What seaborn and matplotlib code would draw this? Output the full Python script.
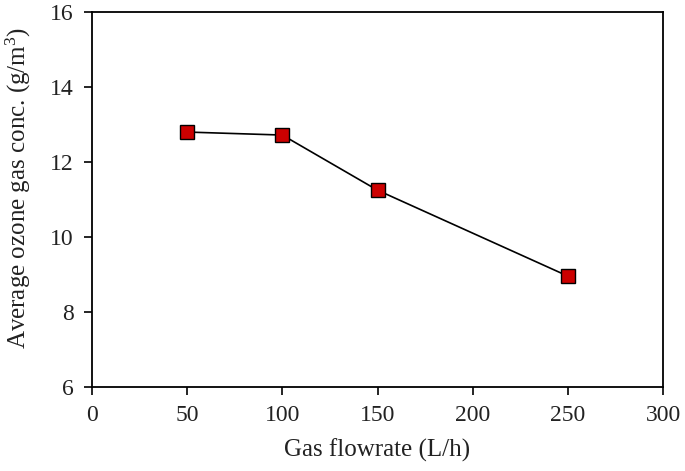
#!/usr/bin/env python3
"""Average ozone gas concentration vs gas flowrate."""

import pandas as pd
import seaborn as sns
import matplotlib
matplotlib.use("Agg")
import matplotlib.pyplot as plt

# Data
flowrate = [50, 100, 150, 250]
ozone_conc = [12.8, 12.72, 11.25, 8.96]

x_ticks = [0, 50, 100, 150, 200, 250, 300]
y_ticks = [6, 8, 10, 12, 14, 16]


def main():
    sns.set_style("ticks")
    plt.rcParams['font.family'] = ['Liberation Serif', 'DejaVu Serif']
    plt.rcParams['mathtext.fontset'] = 'custom'
    plt.rcParams['mathtext.rm'] = 'Liberation Serif'
    plt.rcParams['text.color'] = 'black'
    plt.rcParams['axes.labelcolor'] = 'black'

    df = pd.DataFrame({'flowrate': flowrate, 'conc': ozone_conc})

    fig = plt.figure(figsize=(6.85, 4.71), dpi=100)
    ax = fig.add_axes([0.1343, 0.178, 0.968 - 0.1343, 0.9745 - 0.178])

    sns.lineplot(data=df, x='flowrate', y='conc', ax=ax, color='black',
                 linewidth=1.2, marker='s', markersize=10,
                 markerfacecolor='#cc0000', markeredgecolor='black',
                 markeredgewidth=1.0)

    ax.set_xlim(0, 300)
    ax.set_ylim(6, 16)
    ax.set_xticks(x_ticks)
    ax.set_yticks(y_ticks)
    ax.tick_params(direction='out', length=6, width=1.2, labelsize=17,
                   colors='black', labelcolor='#222222', pad=7)
    for side in ['top', 'right', 'bottom', 'left']:
        ax.spines[side].set_visible(True)
        ax.spines[side].set_linewidth(1.3)
        ax.spines[side].set_color('black')

    ax.set_xlabel('Gas flowrate (L/h)', fontsize=18, labelpad=9,
                  color='#222222')
    ax.set_ylabel('Average ozone gas conc. (g/m$\\mathregular{^3}$)',
                  fontsize=18, color='#222222')
    ax.yaxis.set_label_coords(-0.104, 0.53)

    fig.savefig('out.png', dpi=100)


if __name__ == "__main__":
    main()
